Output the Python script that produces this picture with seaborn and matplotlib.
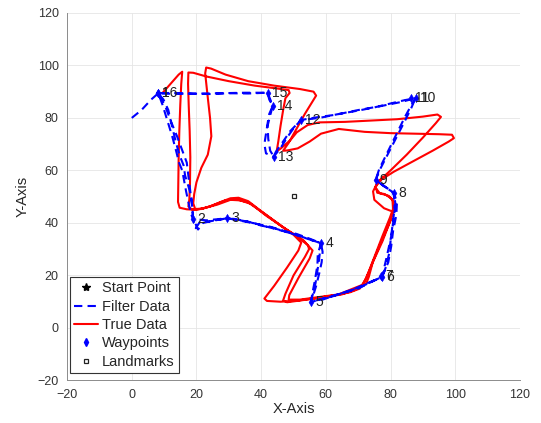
import matplotlib
matplotlib.use("Agg")
import matplotlib.pyplot as plt
from matplotlib.lines import Line2D
import seaborn as sns
import pandas as pd

# Waypoints (numbered 1..16)
wp_id = list(range(1, 17))
wp_x = [8.2, 19.0, 29.5, 58.5, 55.4, 77.4, 77.2, 81.0, 75.4, 87.9, 86.4, 52.3, 43.9, 43.6, 42.0, 8.2]
wp_y = [89.4, 41.5, 41.8, 32.3, 10.0, 19.5, 19.7, 51.5, 56.4, 87.5, 87.5, 79.2, 65.3, 84.6, 89.6, 89.4]

# Landmark and start point
lm_x = [50.3]
lm_y = [50.2]
start_x = [8.2]
start_y = [89.4]

# Estimated trajectory (filter output)
filter_x = [0, 3, 6, 8.2,
            9.5, 11, 12.5, 13.8, 14.6, 15.6, 16.2, 16.8, 17.4, 18, 18.6, 19,
            19.8, 21, 23.5, 26, 29.5,
            32, 36, 40, 44, 48, 52, 55.5, 58.5,
            59, 58.7, 58, 57, 56, 55.4,
            59, 63, 67, 70.5, 74, 77.4,
            78.5, 79.5, 80, 80.5, 81, 81.5, 81,
            78.5, 75.4,
            76.5, 78.5, 80.5, 82.5, 84.5, 86.5, 87.7,
            84.5, 80, 75, 70, 64, 58, 52.3,
            50, 48, 46, 43.9,
            41.5, 41, 41.5, 42, 42.5, 43.6,
            42.5, 42,
            36, 30, 24, 18, 12, 8.2,
            9.8, 11.3, 12.6, 13.8, 14.9, 16, 16.5, 17.5, 18.4, 18.7, 19,
            20.5, 22, 25, 29.5, 33, 38, 43, 47, 51, 55, 58.5,
            57.5, 57.4, 56.6, 55.8, 55.4,
            60, 65, 70, 74, 77.4,
            79.3, 80.2, 80.8, 81.8, 82, 81,
            78, 75.4,
            77, 79.5, 82, 84.5, 86.5, 87.7,
            83, 77, 70, 63, 57, 52.3,
            49, 46.5, 44.5, 43.9,
            42.8, 42.2, 42, 42.8, 43.6, 42,
            35, 27, 19, 12, 8.2,
            10.5, 12, 14, 15.5, 17, 17.5, 18, 18.5, 19,
            23, 29.5, 36, 42, 48, 53, 58.5,
            57.8, 56.8, 55.4,
            62, 69, 77.4,
            78.8, 80.4, 81.3, 81, 75.4]
filter_y = [80, 83, 87, 89.4,
            85, 79, 73, 67, 63, 60, 56, 52, 48.5, 45, 42.5, 41.3,
            38, 40.3, 40.5, 41, 41.8,
            41.5, 40.5, 39, 38, 36.5, 35, 33.5, 32.3,
            29, 25, 21, 16, 12, 10,
            10.8, 12.5, 14, 15.5, 17.5, 19.5,
            23, 28, 33, 38, 43, 47.5, 51.5,
            53.5, 56.4,
            60.5, 65.5, 70.5, 75.5, 80.5, 85, 87.5,
            86.8, 85.5, 84, 82.8, 81.5, 80, 79.2,
            76, 72.5, 68.5, 65.3,
            66.5, 70, 74, 78, 81.5, 84.6,
            87, 89.6,
            89.3, 89.4, 89.1, 89.3, 89.2, 89.4,
            87, 83, 76, 70, 65.4, 62, 58, 54, 50, 46, 41.5,
            37.5, 40, 40.8, 41.8, 41, 39.8, 38.5, 37, 35.8, 34, 32.3,
            28, 24, 18, 13, 10,
            11.5, 13.2, 15, 17.5, 19.5,
            25, 31, 37, 43, 48, 51.5,
            54, 56.4,
            61, 67, 73, 79, 84, 87.5,
            86, 84.5, 83, 81.2, 80.2, 79.2,
            75, 70.5, 67, 65.3,
            67.5, 72, 77, 81, 84.6, 89.6,
            89.6, 89.4, 89.2, 89.5, 89.4,
            84, 79, 73, 68, 63, 58, 53, 48, 41.5,
            41, 41.8, 40.5, 38.5, 36.5, 34.5, 32.3,
            25, 17, 10,
            12, 15, 19.5,
            27, 36, 45, 51.5, 56.4]

# Ground-truth trajectory
true_x = [9.5, 12, 14.5, 15.6, 15.3, 15, 14.7, 14.5, 14.4, 14.3, 14.8, 17, 20, 24, 27.5, 30.5, 33, 36, 40, 45, 50, 52.4,
          51.5, 48, 44, 41, 41.8, 46, 51, 57, 63, 67.5, 70.5, 72.5, 75, 77.5, 79.8, 80.5, 78, 75, 74.6, 76, 80, 85, 90,
          94, 95.6, 94.5, 90, 82, 74, 66, 58, 54.4, 51, 49, 46, 44.8, 45.3, 46, 46.8, 47.5, 48.8, 48.5, 45, 38, 30, 23,
          19, 17.5, 17.4, 17.6, 17.9, 18.1, 18, 17.8, 17.5, 18.5, 21.5,
          25, 29, 32, 36, 40.5, 46, 51.5, 54.5, 54.8, 53.5, 50, 47.5, 46.8, 48, 53, 59, 65, 69, 71.5, 73.5, 76.5, 79.5,
          81, 81, 79.5, 76.7, 75.3, 76.5, 81, 87, 93, 98, 99.6, 99, 95, 88, 80, 72, 64, 58.5, 55, 51.3, 48, 46.8, 48.5,
          51, 53.5, 55.5, 57, 56.2, 52, 44, 36, 29, 24.5, 23, 22.7, 23.3, 24.2, 24.6, 23.5, 21.5, 20, 19.3, 19, 19.6,
          22, 26.5, 30.5, 33.5, 37, 41.5, 47, 53, 55.9, 55, 51.5, 48.7, 48.5, 52, 58, 64, 68, 72.5, 73.3, 74.5, 77.5,
          80, 80.8, 80.6, 78.2, 75.9, 75.4, 77.5]
true_y = [89.5, 93, 96.5, 97.6, 93, 85, 75, 65, 55, 48, 45.8, 45.2, 45, 46.2, 48, 49.4, 49.6, 48.3, 44.5, 40, 35.5, 32.5,
          29.5, 23, 16, 11.2, 10.3, 10, 10.4, 11.4, 12.5, 13.6, 15, 19, 27, 35, 42, 44.4, 45.6, 48.8, 52, 55.5, 60, 66,
          72.5, 78, 80.4, 81.3, 80.5, 79.5, 79, 78.5, 78.3, 77.3, 74.5, 71.5, 68.3, 67.3, 71, 77, 83, 87.5, 89.5, 90.6,
          91.2, 92.3, 94, 95.8, 97.2, 97.3, 93, 85, 75, 65, 55, 49, 46.3, 45.2, 45.3,
          46.7, 48.6, 49.1, 47.8, 44, 39, 34.5, 31.5, 30, 27, 20, 13, 10.5, 9.8, 10.6, 11.6, 12.8, 14.5, 16.5, 22, 31,
          39.5, 44.5, 48, 50.3, 51.3, 53.5, 56, 59.5, 63.5, 67.5, 71, 72.3, 73.6, 73.8, 74, 74.2, 74.7, 75.8, 74, 71,
          68.4, 67.6, 67.5, 70.5, 76, 81.5, 85.5, 88.5, 90, 91, 92.3, 94, 96.5, 98.8, 99.2, 97, 90, 80, 73, 66, 61,
          55.5, 51, 47.5, 45.3, 45.5, 47, 48.8, 48.6, 47.2, 42.8, 38.2, 33.5, 29.5, 26.5, 19, 12.5, 10.8, 10.8, 11.8,
          12.8, 14.8, 17, 19.5, 25, 33, 41, 45.5, 49, 51, 51.5, 53.8, 57.5]

ticks = [-20, 0, 20, 40, 60, 80, 100, 120]

sns.set_theme(style="whitegrid")
plt.rcParams["font.family"] = ["Liberation Sans", "DejaVu Sans"]

fig = plt.figure(figsize=(5.41, 4.23), dpi=100)
ax = fig.add_axes([0.124, 0.1005, 0.837, 0.869])
ax.set_facecolor("white")

true_df = pd.DataFrame({"x": true_x, "y": true_y})
filt_df = pd.DataFrame({"x": filter_x, "y": filter_y})
wp_df = pd.DataFrame({"x": wp_x, "y": wp_y})

sns.lineplot(data=true_df, x="x", y="y", sort=False, estimator=None, color="#ff0000",
             linewidth=1.5, ax=ax, legend=False, zorder=3)
sns.lineplot(data=filt_df, x="x", y="y", sort=False, estimator=None, color="#0000ff",
             linewidth=1.5, linestyle=(0, (4, 2.5)), ax=ax, legend=False, zorder=4)
sns.scatterplot(data=wp_df, x="x", y="y", marker="d", color="#0000ff", edgecolor="#0000ff",
                s=18, ax=ax, legend=False, zorder=5)
ax.plot(start_x, start_y, marker="*", color="black", markersize=3, linestyle="none", zorder=2)
ax.plot(lm_x, lm_y, marker="s", markersize=3.5, markerfacecolor="white", markeredgecolor="#222222",
        markeredgewidth=0.9, linestyle="none", zorder=5)

for i, x, y in zip(wp_id, wp_x, wp_y):
    ax.text(x + 1.3, y, str(i), fontsize=10, color="#222222", va="center", ha="left", zorder=6)

ax.set_xlim(-20, 120)
ax.set_ylim(-20, 120)
ax.set_xticks(ticks)
ax.set_yticks(ticks)
ax.set_xlabel("X-Axis", fontsize=10.5, color="#262626", labelpad=1)
ax.set_ylabel("Y-Axis", fontsize=10.5, color="#262626", labelpad=6)
ax.tick_params(axis="both", labelsize=9, colors="#7f7f7f", labelcolor="#333333",
               direction="out", length=3, width=0.6, pad=3)
ax.grid(True, color="#e5e5e5", linewidth=0.6)
for side in ["top", "right"]:
    ax.spines[side].set_visible(False)
for side in ["left", "bottom"]:
    ax.spines[side].set_visible(True)
    ax.spines[side].set_color("#8c8c8c")
    ax.spines[side].set_linewidth(0.7)

handles = [
    Line2D([], [], marker="*", color="black", linestyle="none", markersize=6),
    Line2D([], [], color="#0000ff", linestyle=(0, (4, 2.5)), linewidth=1.5),
    Line2D([], [], color="#ff0000", linewidth=1.5),
    Line2D([], [], marker="d", color="#0000ff", linestyle="none", markersize=4),
    Line2D([], [], marker="s", markerfacecolor="white", markeredgecolor="#222222",
           markeredgewidth=0.9, linestyle="none", markersize=3.5),
]
labels = ["Start Point", "Filter Data", "True Data", "Waypoints", "Landmarks"]
leg = ax.legend(handles, labels, loc="lower left", bbox_to_anchor=(0.006, 0.02),
                fontsize=10.5, frameon=True, fancybox=False, framealpha=1,
                edgecolor="#333333", handlelength=1.6, handletextpad=0.3,
                labelspacing=0.3, borderpad=0.3, borderaxespad=0.0)
leg.get_frame().set_linewidth(0.8)

fig.savefig("out.png", dpi=100, facecolor="white")
